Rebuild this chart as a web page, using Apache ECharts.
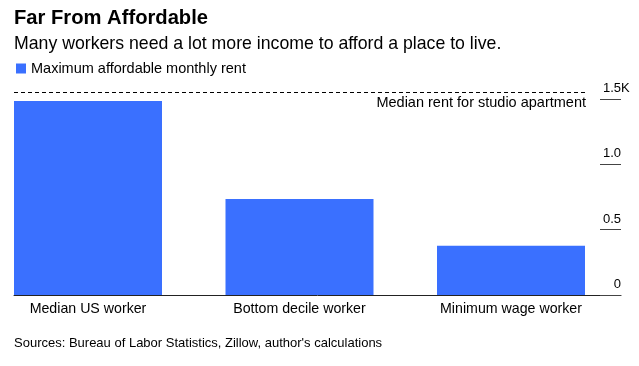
<!DOCTYPE html>
<html>
<head>
<meta charset="utf-8">
<script src="https://cdn.jsdelivr.net/npm/echarts@6/dist/echarts.min.js"></script>
<style>
html,body{margin:0;padding:0;background:#fff;}
#chart{width:639px;height:366px;}
</style>
</head>
<body>
<div id="chart"></div>
<script>
// ---- data ----
var categories = ['Median US worker', 'Bottom decile worker', 'Minimum wage worker'];
var maxAffordableRent = [1485, 735, 377];
var medianStudioRent = 1555;
var yTickValues = [0, 500, 1000, 1500];
var yTickLabels = ['0', '0.5', '1.0', '1.5'];
var yUnitSuffix = 'K';
var titleText = 'Far From Affordable';
var subtitleText = 'Many workers need a lot more income to afford a place to live.';
var seriesName = 'Maximum affordable monthly rent';
var refLineName = 'Median rent for studio apartment';
var sourceText = "Sources: Bureau of Labor Statistics, Zillow, author's calculations";

var FONT = '"Liberation Sans", Arial, sans-serif';
var BLUE = '#3a70ff';
var YMAX = 1600;
var TOP = 86, BOTTOM = 71;
var topTick = yTickValues[yTickValues.length - 1];

var chart = echarts.init(document.getElementById('chart'), null, {renderer: 'canvas'});
chart.setOption({
  animation: false,
  backgroundColor: '#fff',
  textStyle: {fontFamily: FONT},
  title: [
    {text: titleText, left: 14, top: 8, padding: 0,
     textStyle: {fontFamily: FONT, fontWeight: 'bold', fontSize: 20.2, color: '#000'}},
    {text: subtitleText, left: 14, top: 35, padding: 0,
     textStyle: {fontFamily: FONT, fontWeight: 'normal', fontSize: 17.7, color: '#000'}},
    {text: sourceText, left: 14, top: 337, padding: 0,
     textStyle: {fontFamily: FONT, fontWeight: 'normal', fontSize: 13, color: '#000'}}
  ],
  legend: {
    left: 16, top: 61, padding: 0,
    icon: 'rect', itemWidth: 10, itemHeight: 10,
    textStyle: {fontFamily: FONT, fontSize: 14.5, color: '#000'},
    data: [seriesName]
  },
  grid: [
    {left: 88, right: 128, top: TOP, bottom: BOTTOM},
    {left: 14, right: 18, top: TOP, bottom: BOTTOM},
    {left: 14, right: 53, top: TOP, bottom: BOTTOM}
  ],
  xAxis: [
    {gridIndex: 0, type: 'category', data: categories, boundaryGap: false,
     axisLine: {show: false}, axisTick: {show: false}, splitLine: {show: false},
     axisLabel: {fontFamily: FONT, fontSize: 14.2, color: '#000', margin: 7, interval: 0}},
    {gridIndex: 1, type: 'category', data: categories,
     axisLine: {show: true, lineStyle: {color: '#222', width: 1}},
     axisTick: {show: false}, axisLabel: {show: false}},
    {gridIndex: 2, type: 'value', min: 0, max: 1, show: false}
  ],
  yAxis: [
    {gridIndex: 0, type: 'value', min: 0, max: YMAX, show: false},
    {gridIndex: 1, type: 'value', min: 0, max: YMAX, position: 'right',
     splitLine: {show: false},
     axisLine: {show: false},
     axisTick: {show: true, inside: true, length: 21, customValues: yTickValues,
                lineStyle: {color: '#444', width: 1}},
     axisLabel: {
       show: true, inside: true, margin: 0, customValues: yTickValues,
       align: 'right', verticalAlign: 'bottom', padding: [0, 0, 4, 0],
       fontFamily: FONT, fontSize: 13, color: '#000',
       formatter: function (v) {
         var i = yTickValues.indexOf(v);
         return i >= 0 ? yTickLabels[i] : '';
       }
     }},
    {gridIndex: 2, type: 'value', min: 0, max: YMAX, show: false},
    {gridIndex: 1, type: 'value', min: 0, max: YMAX, position: 'right',
     splitLine: {show: false}, axisLine: {show: false}, axisTick: {show: false},
     axisLabel: {
       show: true, inside: false, margin: 0, customValues: [topTick],
       align: 'left', verticalAlign: 'bottom', padding: [0, 0, 4, 0],
       fontFamily: FONT, fontSize: 13, color: '#000',
       formatter: function () { return yUnitSuffix; }
     }}
  ],
  series: [
    {name: seriesName, type: 'bar', xAxisIndex: 0, yAxisIndex: 0,
     data: maxAffordableRent, barWidth: 148, clip: false,
     itemStyle: {color: BLUE}},
    {name: refLineName, type: 'line', xAxisIndex: 2, yAxisIndex: 2,
     data: [], showSymbol: false,
     markLine: {
       silent: true, symbol: 'none', animation: false,
       lineStyle: {color: '#000', width: 1, type: [4, 3]},
       label: {show: true, position: 'insideEndBottom', distance: [0, 4],
               formatter: refLineName,
               fontFamily: FONT, fontSize: 14.5, color: '#000'},
       data: [{yAxis: medianStudioRent}]
     }}
  ]
});
</script>
</body>
</html>
